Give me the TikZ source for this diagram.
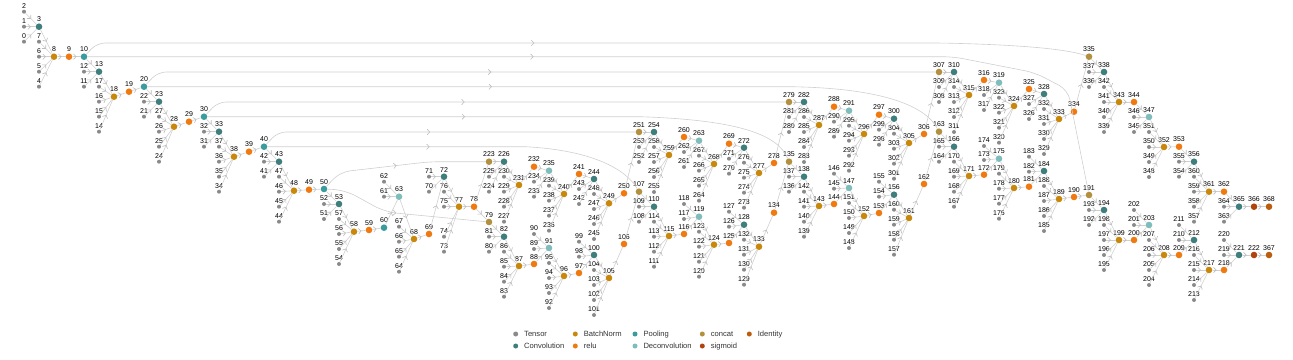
\documentclass[tikz,border=0pt]{standalone}
\usepackage{fontspec}
\setmainfont{Liberation Sans}
\usetikzlibrary{arrows.meta,decorations.markings,positioning}

\definecolor{cTensor}{HTML}{8A8A8A}
\definecolor{cConv}{HTML}{3E7E7C}
\definecolor{cPool}{HTML}{3A9C9C}
\definecolor{cDeconv}{HTML}{7FBCBC}
\definecolor{cBN}{HTML}{C8880C}
\definecolor{cRelu}{HTML}{F07A10}
\definecolor{cConcat}{HTML}{B39040}
\definecolor{cSigmoid}{HTML}{B0440E}
\definecolor{cIdent}{HTML}{BA5D0C}
\definecolor{cEdge}{HTML}{CFCFCF}
\definecolor{cTip}{HTML}{BDBDBD}
\definecolor{cText}{HTML}{333333}

\tikzset{
  lbl/.style={font=\fontsize{7}{8}\selectfont, inner sep=1pt},
  tensor/.style={circle, fill=cTensor, inner sep=0pt, minimum size=4pt},
  op/.style={circle, fill=#1, inner sep=0pt, minimum size=6.6pt},
  conn/.style={draw=cEdge, line width=0.6pt, postaction={decorate},
    decoration={markings, mark=at position #1 with {\arrow{Straight Barb[length=2.6pt,width=5.4pt,line width=0.6pt,color=cTip]}}}},
  conn/.default=0.5,
  swatch/.style={circle, fill=#1, inner sep=0pt, minimum size=5pt},
  keytxt/.style={font=\fontsize{7.6}{9}\selectfont, text=cText, inner sep=0pt, text height=5.4pt, text depth=0pt},
}

\begin{document}
\begin{tikzpicture}[x=1pt,y=-1pt]
    \useasboundingbox (0,0) rectangle (1293,359);
    % weights, biases and inputs
    \foreach \i/\x/\y in {0/24/41.7, 1/24/26.7, 2/24/11.7, 4/39/86.7, 5/39/71.7, 6/39/56.7, 7/39/41.7,
      11/84/86.7, 12/84/71.7, 14/99/131.7, 15/99/116.7, 16/99/101.7, 17/99/86.7,
      21/144/116.7, 22/144/101.7, 24/159/161.7, 25/159/146.7, 26/159/131.7, 27/159/116.7,
      31/204/146.7, 32/204/131.7, 34/219/191.7, 35/219/176.7, 36/219/161.7, 37/219/146.7,
      41/264/176.7, 42/264/161.7, 44/279/221.7, 45/279/206.7, 46/279/191.7, 47/279/176.7,
      51/324/219, 52/324/204, 54/339/264, 55/339/249, 56/339/234, 57/339/219,
      61/384/196.7, 62/384/181.7, 64/399/271.7, 65/399/256.7, 66/399/241.7, 67/399/226.7,
      70/429/191.7, 71/429/176.7, 73/444/251.7, 74/444/236.7, 75/444/206.7, 76/444/191.7}
      \node[tensor, label={[lbl]above:\i}] (n\i) at (\x,\y) {};
    \foreach \i/\x/\y in {80/489/251.7, 81/489/236.7, 83/504/296.7, 84/504/281.7, 85/504/266.7, 86/504/251.7,
      89/534/249, 90/534/234, 92/549/308, 93/549/293, 94/549/278, 95/549/263,
      98/579/256.7, 99/579/241.7, 101/594/315, 102/594/300, 103/594/285, 104/594/270,
      108/639/221.7, 109/639/206.7, 111/654/266.7, 112/654/251.7, 113/654/236.7, 114/654/221.7,
      117/684/219, 118/684/204, 120/699/276.7, 121/699/261.7, 122/699/246.7, 123/699/231.7,
      126/729/226.7, 127/729/211.7, 129/744/284.7, 130/744/269.7, 131/744/254.7, 132/744/239.7,
      136/789/191.7, 137/789/176.7, 139/804/236.7, 140/804/221.7, 141/804/206.7, 142/804/191.7,
      145/834/188.7, 146/834/173.7, 148/849/248, 149/849/233, 150/849/218, 151/849/203,
      154/879/196.7, 155/879/181.7, 157/894/254.7, 158/894/239.7, 159/894/224.7, 160/894/209.7,
      164/939/161.7, 165/939/146.7, 167/954/206.7, 168/954/191.7, 169/954/176.7, 170/954/161.7,
      173/984/160, 174/984/146, 176/999/218.7, 177/999/203.7, 178/999/188.7, 179/999/173.7,
      182/1029/171.7, 183/1029/156.7, 185/1044/231, 186/1044/216, 187/1044/201, 188/1044/186,
      192/1089/225, 193/1089/210, 195/1104/270, 196/1104/255, 197/1104/240, 198/1104/225,
      201/1134/225, 202/1134/210, 204/1149/285, 205/1149/270, 206/1149/255, 207/1149/240,
      210/1179/240, 211/1179/225, 213/1194/300, 214/1194/285, 215/1194/270, 216/1194/255,
      219/1224/255, 220/1224/240}
      \node[tensor, label={[lbl]above:\i}] (n\i) at (\x,\y) {};
    \foreach \i/\x/\y in {224/489/191.7, 225/489/176.7, 227/504/221.7, 228/504/206.7, 229/504/191.7, 230/504/176.7,
      233/534/196.7, 234/534/181.7, 236/549/230.7, 237/549/215.7, 238/549/200.7, 239/549/185.7,
      242/579/204, 243/579/189, 245/594/239, 246/594/224, 247/594/209, 248/594/194,
      252/639/162, 253/639/147, 255/654/192, 256/654/177, 257/654/162, 258/654/147,
      261/684/167, 262/684/152, 264/699/200.7, 265/699/185.7, 266/699/170.7, 267/699/155.7,
      270/729/173.7, 271/729/158.7, 273/744/207.7, 274/744/192.7, 275/744/177.7, 276/744/162.7,
      280/789/132, 281/789/117, 283/804/162, 284/804/147, 285/804/132, 286/804/117,
      289/834/136.7, 290/834/121.7, 292/849/170.7, 293/849/155.7, 294/849/140.7, 295/849/125.7,
      298/879/144.7, 299/879/129.7, 301/894/178.7, 302/894/163.7, 303/894/148.7, 304/894/133.7,
      308/939/102, 309/939/87, 311/954/132, 312/954/117, 313/954/102, 314/954/87,
      317/984/110, 318/984/95, 320/999/142.7, 321/999/127.7, 322/999/112.7, 323/999/97.7,
      326/1029/119, 327/1029/104, 329/1044/154, 330/1044/139, 331/1044/124, 332/1044/109,
      336/1089/87, 337/1089/72, 339/1104/132, 340/1104/117, 341/1104/102, 342/1104/87,
      345/1134/132, 346/1134/117, 348/1149/177, 349/1149/162, 350/1149/147, 351/1149/132,
      354/1179/176.7, 355/1179/161.7, 357/1194/221.7, 358/1194/206.7, 359/1194/191.7, 360/1194/176.7,
      363/1224/221.7, 364/1224/206.7}
      \node[tensor, label={[lbl]above:\i}] (n\i) at (\x,\y) {};
    % operators
    \foreach \i/\x/\y in {3/39/26.7, 13/99/71.7, 23/159/101.7, 33/219/131.7, 43/279/161.7, 53/339/204,
      72/444/176.7, 82/504/236.7, 100/594/255, 110/654/206.7, 128/744/224.7, 138/804/176.7,
      156/894/194.7, 166/954/146.7, 184/1044/171, 194/1104/210, 212/1194/240, 221/1239/255,
      226/504/161.7, 244/594/179, 254/654/132, 272/744/147.7, 282/804/102, 300/894/118.7,
      310/954/72, 328/1044/94, 338/1104/72, 356/1194/161.7, 365/1239/206.7}
      \node[op=cConv, label={[lbl]above:\i}] (n\i) at (\x,\y) {};
    \foreach \i/\x/\y in {63/399/196.7, 91/549/248, 119/699/216.7, 147/849/188, 175/999/158.7, 203/1149/225,
      235/549/170.7, 263/699/140.7, 291/849/110.7, 319/999/82.7, 347/1149/117}
      \node[op=cDeconv, label={[lbl]above:\i}] (n\i) at (\x,\y) {};
    \foreach \i/\x/\y in {10/84/56.7, 20/144/86.7, 30/204/116.7, 40/264/146.7, 50/324/189, 60/384/227.7}
      \node[op=cPool, label={[lbl]above:\i}] (n\i) at (\x,\y) {};
    \foreach \i/\x/\y in {8/54/56.7, 18/114/96.7, 28/174/126.7, 38/234/156.7, 48/294/190.7, 58/354/231.7,
      68/414/239, 77/459/206.7, 87/519/266, 96/564/276, 105/609/278, 115/669/236, 124/714/244.7,
      133/759/246.7, 143/819/206, 152/864/216, 161/909/218, 171/969/176, 180/1014/188, 189/1059/199,
      199/1119/240, 208/1164/255, 217/1209/270, 231/519/185, 240/564/194, 249/609/203.3, 259/669/155,
      268/714/164, 277/759/173, 287/819/125, 296/864/134, 305/909/143, 315/969/95, 324/1014/106,
      333/1059/119, 343/1119/102, 352/1164/147, 361/1209/191.7}
      \node[op=cBN, label={[lbl]above:\i}] (n\i) at (\x,\y) {};
    \foreach \i/\x/\y in {9/69/56.7, 19/129/91.7, 29/189/121.7, 39/249/151.7, 49/309/189.7, 59/369/230,
      69/429/234, 78/474/206.7, 88/534/264, 97/579/273, 106/624/244, 116/684/234, 125/729/243,
      134/774/212.7, 144/834/204, 153/879/213, 162/924/184, 172/984/174.7, 181/1029/186.7,
      190/1074/197, 200/1134/240, 209/1179/255, 218/1224/270, 232/534/166.7, 241/579/174,
      250/624/193.3, 260/684/137, 269/729/143.7, 278/774/163, 288/834/106.7, 297/879/114.7,
      306/924/134, 316/984/80, 325/1029/89, 334/1074/111.7, 344/1134/102, 353/1179/146.7, 362/1224/191.7}
      \node[op=cRelu, label={[lbl]above:\i}] (n\i) at (\x,\y) {};
    \foreach \i/\x/\y in {79/489/222, 107/639/191.7, 135/789/161.7, 163/939/131.7, 191/1089/195,
      223/489/161.7, 251/639/132, 279/789/102, 307/939/72, 335/1089/56.7}
      \node[op=cConcat, label={[lbl]above:\i}] (n\i) at (\x,\y) {};
    \foreach \i/\x/\y in {222/1254/255, 366/1254/206.7}
      \node[op=cSigmoid, label={[lbl]above:\i}] (n\i) at (\x,\y) {};
    \foreach \i/\x/\y in {367/1269/255, 368/1269/206.7}
      \node[op=cIdent, label={[lbl]above:\i}] (n\i) at (\x,\y) {};
    % conv -> batchnorm -> relu blocks
    \foreach \c in {3,13,23,33,43,53,63,72,82,91,100,110,119,128,138,147,156,166,175,184,194,203,212,
        226,235,244,254,263,272,282,291,300,310,319,328,338,347,356} {
      \pgfmathtruncatemacro\prv{\c-3}
      \pgfmathtruncatemacro\bia{\c-2}
      \pgfmathtruncatemacro\wgt{\c-1}
      \pgfmathtruncatemacro\bnid{\c+5}
      \pgfmathtruncatemacro\rlid{\c+6}
      \foreach \src in {\prv,\bia,\wgt} \draw[conn] (n\src) -- (n\c);
      \foreach \k in {1,...,4} {
        \pgfmathtruncatemacro\src{\c+\k}
        \draw[conn] (n\src) -- (n\bnid);
      }
      \draw[conn] (n\c) -- (n\bnid);
      \draw[conn] (n\bnid) -- (n\rlid);
    }
    \foreach \a/\b in {9/10, 19/20, 29/30, 39/40, 49/50, 59/60, 78/79, 78/223, 106/107, 134/135,
        162/163, 190/191, 250/251, 278/279, 306/307, 334/335, 218/221, 219/221, 220/221,
        221/222, 222/367, 362/365, 363/365, 364/365, 365/366, 366/368}
      \draw[conn] (n\a) -- (n\b);
    % skip connections
    \draw[conn=0.45, rounded corners=8pt] (n10) -- (97,43) -- (940,43) .. controls (1030,45) and (1070,50) .. (n335);
    \draw[conn=0.41, rounded corners=10pt] (n10) -- (953,56.7) -- (1035,72.7) -- (1068,90) -- (n191);
    \draw[conn=0.44, rounded corners=8pt] (n20) -- (158,72) -- (n307);
    \draw[conn=0.43] (n20) -- (790,86.7) .. controls (880,88) and (925,105) .. (n163);
    \draw[conn=0.45, rounded corners=8pt] (n30) -- (218,102) -- (n279);
    \draw[conn=0.435] (n30) -- (640,116.7) .. controls (740,120) and (778,135) .. (n135);
    \draw[conn=0.45, rounded corners=8pt] (n40) -- (278,132) -- (n251);
    \draw[conn=0.425] (n40) -- (525,146.7) .. controls (590,150) and (625,168) .. (n107);
    \draw[conn=0.46, rounded corners=10pt] (n50) -- (340,172) -- (430,161.7) -- (n223);
    \draw[conn=0.45, rounded corners=12pt] (n50) -- (345,190) -- (385,212) -- (n79);
    % legend
    \foreach \nm/\col/\x/\y in {Tensor/cTensor/515.7/334, BatchNorm/cBN/575.3/334, Pooling/cPool/635/334,
        concat/cConcat/702.3/334, Identity/cIdent/749.3/334, Convolution/cConv/515.7/346,
        relu/cRelu/575.3/346, Deconvolution/cDeconv/635/346, sigmoid/cSigmoid/702.3/346} {
      \node[swatch=\col] (k\nm) at (\x,\y) {};
      \node[keytxt, right=5.6pt of k\nm] (t\nm) {\nm};
    }
\end{tikzpicture}
\end{document}
